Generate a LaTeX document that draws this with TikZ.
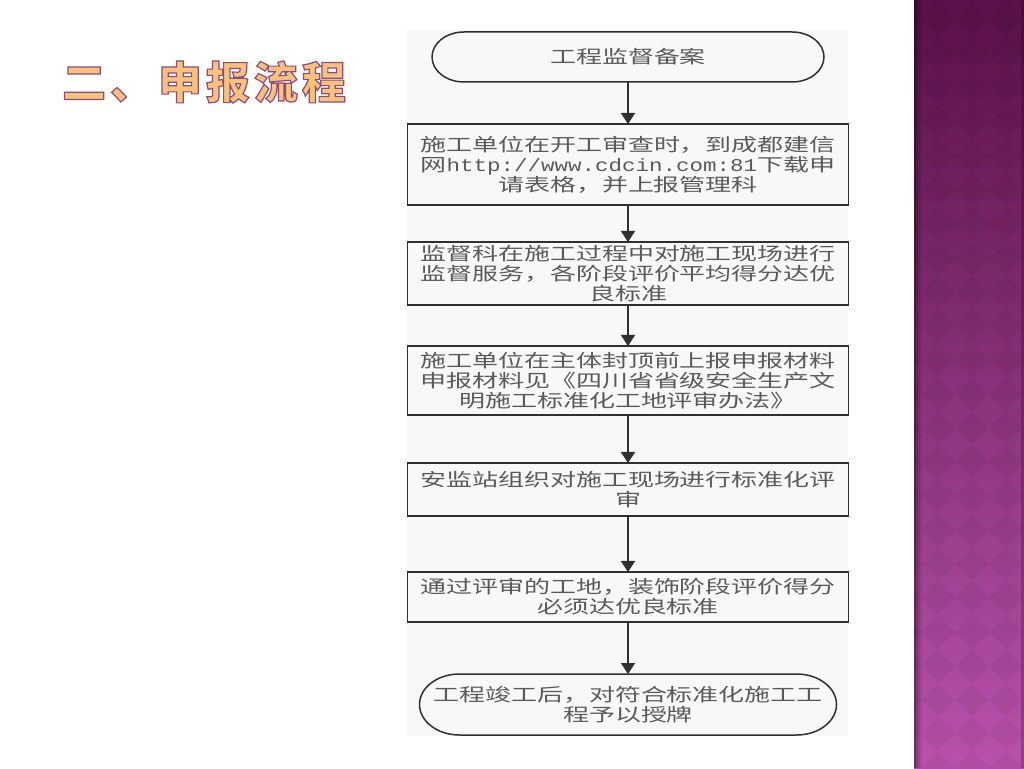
\documentclass[tikz,border=0pt]{standalone}
\usepackage{fontspec}
\usetikzlibrary{arrows.meta}
\newfontfamily\cjk{Noto Sans CJK SC}[FakeStretch=1.444]
\newfontfamily\latm{Liberation Mono}[FakeStretch=1.25]
\newfontfamily\ttlfont{Noto Sans CJK SC}[LetterSpace=9]
\definecolor{txtc}{HTML}{5A5A5A}
\definecolor{linec}{HTML}{303030}
\definecolor{chartbg}{HTML}{F8F8F8}
\definecolor{bandtop}{HTML}{5A1048}
\definecolor{bandbot}{HTML}{B852AC}
\definecolor{ttlfill}{HTML}{F9C27A}
\tikzset{
  boxs/.style={draw=linec, line width=1.5pt},
  txt/.style={text=txtc, font=\cjk\fontsize{18pt}{20pt}\selectfont, align=center, inner sep=0pt, outer sep=0pt},
  procbox/.style={boxs, txt, minimum width=441pt},
  termbox/.style={txt},
  arr/.style={draw=linec, line width=1.5pt, -{Triangle[width=14pt,length=11pt]}},
  ttl/.style={inner sep=0pt, outer sep=0pt, text=ttlfill, font=\ttlfont\bfseries\fontsize{44pt}{48pt}\selectfont}
}
\begin{document}
\begin{tikzpicture}[x=1pt,y=1pt]
\useasboundingbox (0,0) rectangle (1024,768);
\fill[white] (0,0) rectangle (1024,768);
% right band
\shade[top color=bandtop, bottom color=bandbot] (914,0) rectangle (1024,768);
\begin{scope}
\clip (914,0) rectangle (1024,768);
\foreach \i in {-1,...,3}{
  \foreach \j in {-1,...,23}{
    \fill[black, opacity=0.045] (938+34*\i, 748-34*\j) +(-17,0) -- +(0,17) -- +(17,0) -- +(0,-17) -- cycle;
  }
}
\end{scope}
\fill[black, opacity=0.40] (914,0) rectangle (916,768);
\fill[black, opacity=0.26] (916,0) rectangle (918,768);
\fill[black, opacity=0.15] (918,0) rectangle (920,768);
\fill[black, opacity=0.07] (920,0) rectangle (922,768);
\fill[black, opacity=0.20] (1021,0) rectangle (1024,768);
% title (filled and outlined text)
\node[ttl] (title) at (204,686) {\special{pdf:literal direct 2 Tr 1.2 w 0.55 0.30 0.50 RG}二、申报流程\special{pdf:literal direct 0 Tr}};
% flowchart background
\fill[chartbg] (407,32) rectangle (848,738);
% nodes
\node[termbox, minimum width=392pt, minimum height=50pt] (t1) at (628,711) {工程监督备案};
\draw[boxs] ([xshift=32pt]t1.north west) -- ([xshift=-32pt]t1.north east)
  arc[start angle=90, end angle=-90, x radius=32pt, y radius=25pt]
  -- ([xshift=32pt]t1.south west)
  arc[start angle=270, end angle=90, x radius=32pt, y radius=25pt] -- cycle;
\node[procbox, minimum height=81pt] (b2) at (628,603.5) {施工单位在开工审查时，到成都建信\\网{\latm http://www.cdcin.com:81}下载申\\请表格，并上报管理科};
\node[procbox, minimum height=63pt] (b3) at (628,494.5) {监督科在施工过程中对施工现场进行\\监督服务，各阶段评价平均得分达优\\良标准};
\node[procbox, minimum height=69pt] (b4) at (628,387.5) {施工单位在主体封顶前上报申报材料\\申报材料见《四川省省级安全生产文\\明施工标准化工地评审办法》};
\node[procbox, minimum height=53pt] (b5) at (628,278.5) {安监站组织对施工现场进行标准化评\\审};
\node[procbox, minimum height=50pt] (b6) at (628,171) {通过评审的工地，装饰阶段评价得分\\必须达优良标准};
\node[termbox, minimum width=417pt, minimum height=61pt] (t7) at (628,63.5) {工程竣工后，对符合标准化施工工\\程予以授牌};
\draw[boxs] ([xshift=40pt]t7.north west) -- ([xshift=-40pt]t7.north east)
  arc[start angle=90, end angle=-90, x radius=40pt, y radius=30.5pt]
  -- ([xshift=40pt]t7.south west)
  arc[start angle=270, end angle=90, x radius=40pt, y radius=30.5pt] -- cycle;
% arrows
\draw[arr] (t1) -- (b2);
\draw[arr] (b2) -- (b3);
\draw[arr] (b3) -- (b4);
\draw[arr] (b4) -- (b5);
\draw[arr] (b5) -- (b6);
\draw[arr] (b6) -- (t7);
\end{tikzpicture}
\end{document}
